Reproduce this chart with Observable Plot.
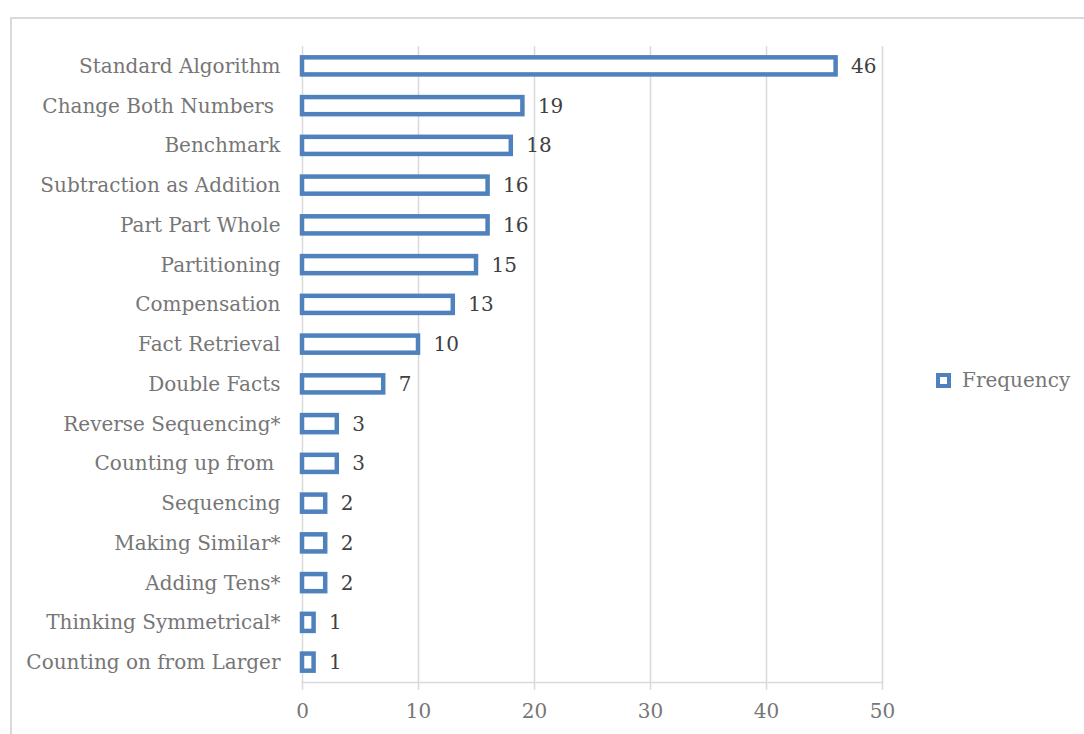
<!DOCTYPE html>
<html>
<head>
<meta charset="utf-8">
<script src="https://cdn.jsdelivr.net/npm/d3@7"></script>
<script src="https://cdn.jsdelivr.net/npm/@observablehq/plot@0.6"></script>
<style>
  html, body { margin: 0; padding: 0; background: #fff; }
  #wrap { position: relative; width: 1084px; height: 734px; overflow: hidden; }
  #frame { position: absolute; left: 10px; top: 17px; width: 1100px; height: 760px; border: 2px solid #d9d9d9; box-sizing: border-box; }
  #chart { position: absolute; left: 0; top: 0; }
  #legend { position: absolute; left: 936px; top: 368px; display: flex; align-items: center; font-family: "DejaVu Serif", serif; font-size: 20px; color: #767676; }
  #legend .sw { width: 15px; height: 15px; box-sizing: border-box; border: 4px solid #4f81bd; background: #fff; margin-right: 11px; }
</style>
</head>
<body>
<div id="wrap">
  <div id="frame"></div>
  <div id="chart"></div>
  <div id="legend"><span class="sw"></span><span>Frequency</span></div>
</div>
<script>
const categories = [
  "Standard Algorithm",
  "Change Both Numbers ",
  "Benchmark",
  "Subtraction as Addition",
  "Part Part Whole",
  "Partitioning",
  "Compensation",
  "Fact Retrieval",
  "Double Facts",
  "Reverse Sequencing*",
  "Counting up from ",
  "Sequencing",
  "Making Similar*",
  "Adding Tens*",
  "Thinking Symmetrical*",
  "Counting on from Larger"
];
const frequency = [46, 19, 18, 16, 16, 15, 13, 10, 7, 3, 3, 2, 2, 2, 1, 1];
const xTicks = [0, 10, 20, 30, 40, 50];

const data = categories.map((c, i) => ({category: c, value: frequency[i]}));

const chart = Plot.plot({
  width: 1084,
  height: 734,
  marginLeft: 302,
  marginRight: 202,
  marginTop: 46,
  marginBottom: 52,
  style: {fontFamily: "'DejaVu Serif', serif", fontSize: "20px", background: "transparent"},
  x: {domain: [0, 50], ticks: xTicks, label: null},
  y: {domain: categories, paddingInner: 0.57, paddingOuter: 0.285, round: false, label: null},
  marks: [
    Plot.gridX(xTicks, {stroke: "#d9d9d9", strokeOpacity: 1, strokeWidth: 1.5}),
    Plot.frame({anchor: "bottom", stroke: "#d9d9d9", strokeWidth: 1.5}),
    Plot.axisX({ticks: xTicks, tickSize: 8, tickPadding: 13, stroke: "#d9d9d9", strokeWidth: 1.5, fill: "#767676", fontSize: 20, label: null}),
    Plot.axisY({tickSize: 0, tickPadding: 22, fill: "#767676", fontSize: 20, label: null}),
    Plot.barX(data, {x: "value", y: "category", fill: "#fff", stroke: "#4f81bd", strokeWidth: 4.5}),
    Plot.text(data, {x: "value", y: "category", text: d => String(d.value), textAnchor: "start", dx: 15, fill: "#404040", fontSize: 20})
  ]
});
document.getElementById("chart").appendChild(chart);
</script>
</body>
</html>
